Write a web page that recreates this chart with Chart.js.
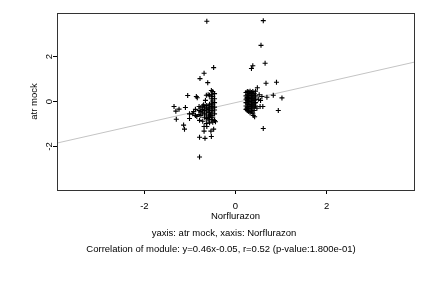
<!DOCTYPE html>
<html lang="en">
<head>
  <meta charset="UTF-8" />
  <title>atr mock vs Norflurazon</title>
  <script src="https://cdn.jsdelivr.net/npm/chart.js"></script>
  <style>
    body { margin: 0; background: #fff; }
    #wrap { width: 432px; height: 288px; }
  </style>
</head>
<body>
  <div id="wrap"><canvas id="myChart_scatter" width="432" height="288"></canvas></div>

  <script>
    // axis ranges / ticks
    const xRange = [-3.92, 3.92];
    const yRange = [-3.94, 3.94];
    const xTicks = [-2, 0, 2];
    const yTicks = [-2, 0, 2];

    // fit line y = 0.46x - 0.05, endpoints at plot edges
    const fitX = [-3.92, 3.92];
    const fitY = [-1.85, 1.75];

    // Norflurazon (x), atr mock (y) - left group
    const leftX = [
      -0.63, -0.48, -0.69, -0.78, -0.61, -1.05, -0.86, -0.84, -0.64,
      -1.35, -1.31, -1.24, -1.10, -1.30, -1.01, -1.01, -0.94, -1.14, -1.12,
      -0.85, -0.79, -0.69, -0.63, -0.69, -0.54, -0.48, -0.79, -0.67, -0.53, -0.79, -0.44,
      -0.53, -0.53, -0.53, -0.53, -0.53, -0.53, -0.53, -0.53,
      -0.50, -0.50, -0.50, -0.50, -0.50, -0.50, -0.50, -0.50,
      -0.46, -0.46, -0.46, -0.46, -0.46, -0.46, -0.46,
      -0.57, -0.57, -0.57, -0.57, -0.57, -0.57,
      -0.60, -0.60, -0.60, -0.60, -0.60,
      -0.64, -0.64, -0.64, -0.64, -0.64, -0.64,
      -0.68, -0.68, -0.68, -0.68,
      -0.72, -0.72, -0.72, -0.72,
      -0.76, -0.76, -0.76,
      -0.80, -0.80, -0.80,
      -0.88, -0.88, -0.92, -0.66, -0.55, -0.59, -0.70
    ];
    const leftY = [
      3.57, 1.51, 1.26, 1.02, 0.84, 0.27, 0.22, 0.17, 0.28,
      -0.22, -0.43, -0.34, -0.27, -0.79, -0.55, -0.76, -0.55, -1.05, -1.23,
      -0.67, -0.84, -1.11, -1.11, -1.32, -1.32, -1.23, -1.59, -1.64, -1.56, -2.47, -0.90,
      0.49, 0.30, 0.12, -0.08, -0.22, -0.40, -0.62, -0.80,
      0.44, 0.22, 0.02, -0.15, -0.30, -0.47, -0.70, -0.92,
      0.35, 0.12, -0.05, -0.25, -0.38, -0.55, -0.85,
      0.28, -0.12, -0.28, -0.50, -0.72, -0.95,
      0.30, -0.20, -0.35, -0.48, -0.82,
      -0.18, -0.30, -0.42, -0.60, -0.75, -0.98,
      -0.25, -0.40, -0.55, -0.70,
      -0.20, -0.35, -0.50, -0.88,
      -0.28, -0.45, -0.62,
      -0.22, -0.40, -0.58,
      -0.35, -0.62, -0.45, 0.05, -0.60, -0.65, -0.15
    ];

    // right group
    const rightX = [
      0.61, 0.56, 0.65, 0.38, 0.35, 0.67, 0.90, 0.48, 0.44, 0.58, 0.69, 0.83,
      1.02, 0.94, 0.61, 0.54, 0.60, 0.39, 0.42, 0.50, 0.55, 0.47, 0.52,
      0.23, 0.23, 0.23, 0.23, 0.23, 0.23,
      0.26, 0.26, 0.26, 0.26, 0.26, 0.26, 0.26,
      0.29, 0.29, 0.29, 0.29, 0.29, 0.29, 0.29,
      0.32, 0.32, 0.32, 0.32, 0.32, 0.32, 0.32, 0.32,
      0.35, 0.35, 0.35, 0.35, 0.35, 0.35, 0.35,
      0.38, 0.38, 0.38, 0.38, 0.38, 0.38, 0.38,
      0.41, 0.41, 0.41, 0.41, 0.41, 0.41,
      0.44, 0.44, 0.44, 0.44, 0.25, 0.25
    ];
    const rightY = [
      3.60, 2.50, 1.70, 1.59, 1.47, 0.81, 0.86, 0.61, 0.46, 0.22, 0.19, 0.28,
      0.16, -0.40, -1.20, -0.22, -0.22, -0.62, -0.68, 0.10, 0.05, -0.30, 0.30,
      0.40, 0.25, 0.10, -0.05, -0.20, -0.35,
      0.45, 0.32, 0.18, 0.04, -0.10, -0.25, -0.40,
      0.42, 0.28, 0.14, 0.00, -0.14, -0.30, -0.45,
      0.46, 0.35, 0.20, 0.07, -0.07, -0.22, -0.38, -0.50,
      0.40, 0.26, 0.12, -0.02, -0.16, -0.32, -0.46,
      0.44, 0.30, 0.16, 0.02, -0.12, -0.28, -0.52,
      0.35, 0.20, 0.05, -0.10, -0.24, -0.40,
      0.25, 0.10, -0.05, -0.20, 0.15, -0.30
    ];

    const xTitle = 'Norflurazon';
    const yTitle = 'atr mock';
    const caption1 = 'yaxis: atr mock, xaxis: Norflurazon';
    const caption2 = 'Correlation of module: y=0.46x-0.05, r=0.52 (p-value:1.800e-01)';

    const FONT = '"Liberation Sans", Arial, sans-serif';
    const FSIZE = 9.5;

    const toPoints = (xs, ys) => xs.map((x, i) => ({ x: x, y: ys[i] }));
    const scatterData = toPoints(leftX, leftY).concat(toPoints(rightX, rightY));

    // box, rotated y tick labels, axis titles and captions
    const decorPlugin = {
      id: 'decor',
      afterDraw(chart) {
        const ctx = chart.ctx;
        const a = chart.chartArea;
        const ys = chart.scales.y;
        ctx.save();
        ctx.strokeStyle = '#333';
        ctx.lineWidth = 1;
        ctx.strokeRect(Math.round(a.left) + 0.5, Math.round(a.top) + 0.5,
          Math.round(a.right - a.left), Math.round(a.bottom - a.top));

        ctx.fillStyle = '#000';
        ctx.font = FSIZE + 'px ' + FONT;
        ctx.textAlign = 'center';
        ctx.textBaseline = 'middle';
        yTicks.forEach(v => {
          ctx.save();
          ctx.translate(49, ys.getPixelForValue(v));
          ctx.rotate(-Math.PI / 2);
          ctx.fillText(String(v), 0, 0);
          ctx.restore();
        });
        ctx.save();
        ctx.translate(34.5, (a.top + a.bottom) / 2);
        ctx.rotate(-Math.PI / 2);
        ctx.fillText(yTitle, 0, 0);
        ctx.restore();

        ctx.fillText(xTitle, (a.left + a.right) / 2, 216.5);
        ctx.fillText(caption1, 224, 233);
        ctx.fillText(caption2, 221, 249);
        ctx.restore();
      }
    };

    new Chart(document.getElementById('myChart_scatter'), {
      type: 'scatter',
      data: {
        datasets: [
          {
            label: 'fit',
            type: 'line',
            data: toPoints(fitX, fitY),
            borderColor: '#c4c4c4',
            borderWidth: 1,
            pointRadius: 0,
            fill: false,
            order: 2
          },
          {
            label: 'genes',
            data: scatterData,
            pointStyle: 'cross',
            pointRadius: 2.5,
            borderColor: '#000',
            backgroundColor: '#000',
            borderWidth: 1.1,
            order: 1
          }
        ]
      },
      options: {
        responsive: false,
        animation: false,
        devicePixelRatio: 1,
        layout: { padding: { left: 0, right: 18, top: 13, bottom: 0 } },
        plugins: {
          legend: { display: false },
          tooltip: { enabled: false }
        },
        scales: {
          x: {
            type: 'linear',
            min: xRange[0],
            max: xRange[1],
            afterBuildTicks: s => { s.ticks = xTicks.map(v => ({ value: v })); },
            afterFit: s => { s.height = 98; },
            grid: { drawOnChartArea: false, drawTicks: true, tickLength: 4, color: '#000' },
            border: { display: true, color: '#333' },
            ticks: { color: '#000', padding: 7, font: { family: FONT, size: FSIZE }, maxRotation: 0 }
          },
          y: {
            type: 'linear',
            min: yRange[0],
            max: yRange[1],
            afterBuildTicks: s => { s.ticks = yTicks.map(v => ({ value: v })); },
            afterFit: s => { s.width = 57; },
            grid: { drawOnChartArea: false, drawTicks: true, tickLength: 4, color: '#000' },
            border: { display: true, color: '#333' },
            ticks: { display: false }
          }
        }
      },
      plugins: [decorPlugin]
    });
  </script>
</body>
</html>
